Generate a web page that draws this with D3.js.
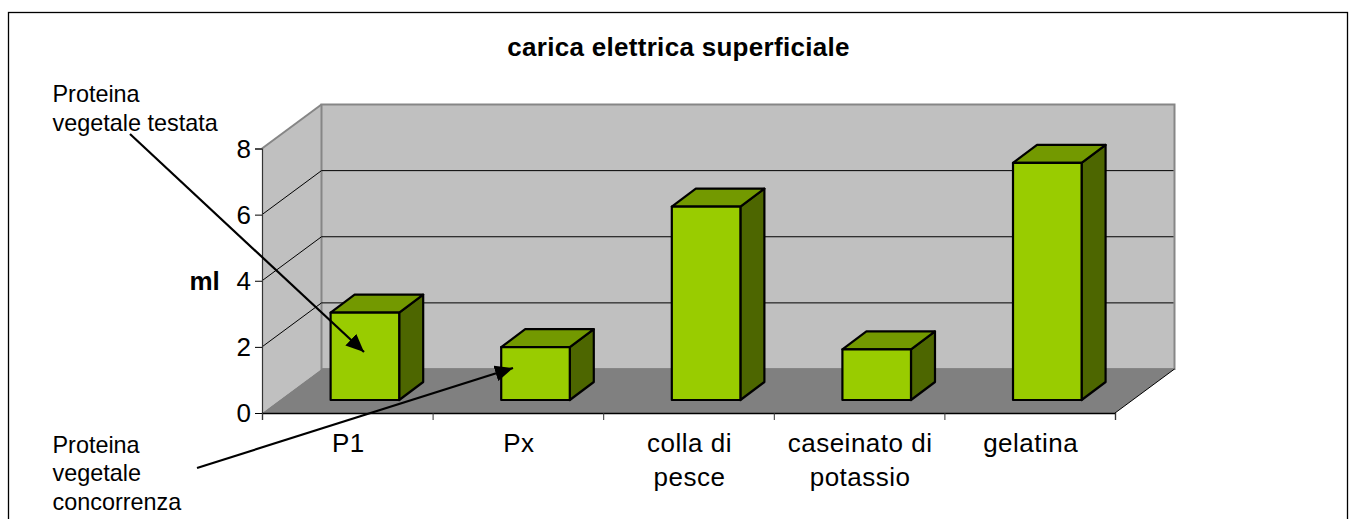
<!DOCTYPE html>
<html>
<head>
<meta charset="utf-8">
<script src="https://cdnjs.cloudflare.com/ajax/libs/d3/7.8.5/d3.min.js"></script>
<style>
  html, body { margin: 0; padding: 0; background: #fff; overflow: hidden; }
  svg { display: block; }
  text { font-family: "Liberation Sans", Arial, sans-serif; fill: #000; }
</style>
</head>
<body>
<svg id="chart" width="1349" height="519"></svg>
<script>
// values
const categories = ['P1', 'Px', 'colla di pesce', 'caseinato di potassio', 'gelatina'];
const categoryLines = [['P1'], ['Px'], ['colla di', 'pesce'], ['caseinato di', 'potassio'], ['gelatina']];
const values = [2.64, 1.6, 5.85, 1.53, 7.17];
const yTicks = [0, 2, 4, 6, 8];
const titleText = 'carica elettrica superficiale';
const yLabel = 'ml';
const noteTested = ['Proteina', 'vegetale testata'];
const noteRival = ['Proteina', 'vegetale', 'concorrenza'];

const svg = d3.select('#chart');

// Margin conventions
const plot = { left: 262, right: 1115, top: 148.5, bottom: 413 };
// 3d offsets: wall depth, then where the bars sit inside it
const wall = { dx: 59.5, dy: -44 };
const barShift = { dx: 17.6, dy: -13 };
const barDepth = { dx: 24, dy: -18 };

const x = d3.scaleBand().domain(categories).range([plot.left, plot.right]).paddingInner(0).paddingOuter(0);
const y = d3.scaleLinear().domain([0, 8]).range([plot.bottom, plot.top]);
const barWidth = x.bandwidth() * 0.402;

const poly = (pts) => pts.map((p) => p.join(',')).join(' ');

// outer frame, bottom edge runs off the picture
svg.append('rect')
  .attr('x', 8.5).attr('y', 12.5)
  .attr('width', 1339).attr('height', 520)
  .attr('fill', '#fff').attr('stroke', '#000').attr('stroke-width', 1.3);

const g = svg.append('g');

// side wall, back wall, floor
g.append('polygon')
  .attr('points', poly([[plot.left, y(0)], [plot.left, y(8)], [plot.left + wall.dx, y(8) + wall.dy], [plot.left + wall.dx, y(0) + wall.dy]]))
  .attr('fill', '#c0c0c0');
g.append('polygon')
  .attr('points', poly([[plot.left + wall.dx, y(8) + wall.dy], [plot.right + wall.dx, y(8) + wall.dy], [plot.right + wall.dx, y(0) + wall.dy], [plot.left + wall.dx, y(0) + wall.dy]]))
  .attr('fill', '#c0c0c0')
  .attr('stroke', '#868686').attr('stroke-width', 2);
g.append('polygon')
  .attr('points', poly([[plot.left, y(0)], [plot.right, y(0)], [plot.right + wall.dx, y(0) + wall.dy], [plot.left + wall.dx, y(0) + wall.dy]]))
  .attr('fill', '#808080');
g.append('polyline')
  .attr('points', poly([[plot.left, y(8)], [plot.left + wall.dx, y(8) + wall.dy]]))
  .attr('fill', 'none').attr('stroke', '#868686').attr('stroke-width', 2);
g.append('line')
  .attr('x1', plot.right).attr('y1', y(0))
  .attr('x2', plot.right + wall.dx).attr('y2', y(0) + wall.dy)
  .attr('stroke', '#000').attr('stroke-width', 1);

// gridlines, bent round the side wall
g.selectAll('.grid')
  .data(yTicks.filter((d) => d > 0 && d < 8))
  .enter().append('polyline')
  .attr('class', 'grid')
  .attr('points', (d) => poly([[plot.left, y(d)], [plot.left + wall.dx, y(d) + wall.dy], [plot.right + wall.dx - 1, y(d) + wall.dy]]))
  .attr('fill', 'none').attr('stroke', '#000').attr('stroke-width', 1);

// axes
const yAxis = g.append('g')
  .attr('transform', `translate(${plot.left},0)`)
  .call(d3.axisLeft(y).tickValues(yTicks).tickSize(7).tickPadding(4));
yAxis.selectAll('text').style('font-size', '26px').style('font-family', '"Liberation Sans", Arial, sans-serif').attr('dy', '0.33em');
yAxis.select('.domain').attr('stroke', '#333').attr('stroke-width', 1.2);

// ticks sit on the band edges, labels in the band centres
const xEdges = d3.scaleLinear().domain([0, categories.length]).range([plot.left, plot.right]);
const xAxis = g.append('g')
  .attr('transform', `translate(0,${plot.bottom})`)
  .call(d3.axisBottom(xEdges).tickValues(d3.range(categories.length + 1)).tickSize(7).tickFormat(''));
xAxis.select('.domain').attr('stroke', '#000').attr('stroke-width', 1.3);
xAxis.selectAll('.tick line').attr('stroke', '#333');

g.selectAll('.xlabel')
  .data(categories)
  .enter().append('text')
  .attr('class', 'xlabel')
  .attr('text-anchor', 'middle')
  .style('font-size', '26px')
  .style('letter-spacing', '0.5px')
  .each(function (d, i) {
    d3.select(this).selectAll('tspan')
      .data(categoryLines[i])
      .enter().append('tspan')
      .attr('x', x(d) + x.bandwidth() / 2 + 1)
      .attr('y', (t, j) => 452 + j * 34)
      .text((t) => t);
  });

// bars
const bars = g.selectAll('.bar')
  .data(categories.map((c, i) => ({ name: c, value: values[i] })))
  .enter().append('g')
  .attr('class', 'bar')
  .attr('stroke', '#000').attr('stroke-width', 2.2).attr('stroke-linejoin', 'round');

const x0 = (d) => x(d.name) + x.bandwidth() / 2 + barShift.dx - barWidth / 2;
const x1 = (d) => x0(d) + barWidth;
const yBase = y(0) + barShift.dy;
const yTop = (d) => y(d.value) + barShift.dy;

bars.append('polygon')
  .attr('fill', '#4d6600')
  .attr('points', (d) => poly([[x1(d), yBase], [x1(d), yTop(d)], [x1(d) + barDepth.dx, yTop(d) + barDepth.dy], [x1(d) + barDepth.dx, yBase + barDepth.dy]]));
bars.append('polygon')
  .attr('fill', '#739900')
  .attr('points', (d) => poly([[x0(d), yTop(d)], [x1(d), yTop(d)], [x1(d) + barDepth.dx, yTop(d) + barDepth.dy], [x0(d) + barDepth.dx, yTop(d) + barDepth.dy]]));
bars.append('rect')
  .attr('fill', '#99cc00')
  .attr('x', x0)
  .attr('y', yTop)
  .attr('width', barWidth)
  .attr('height', (d) => yBase - yTop(d));

// title and axis title
svg.append('text')
  .attr('x', 678.5).attr('y', 56)
  .attr('text-anchor', 'middle')
  .style('font-size', '26px').style('font-weight', 'bold')
  .style('letter-spacing', '0.3px')
  .text(titleText);
svg.append('text')
  .attr('x', 189.5).attr('y', 290)
  .style('font-size', '26px').style('font-weight', 'bold')
  .text(yLabel);

// callouts
svg.append('defs').append('marker')
  .attr('id', 'head')
  .attr('viewBox', '0 0 18 16')
  .attr('refX', 18).attr('refY', 8)
  .attr('markerWidth', 18).attr('markerHeight', 16)
  .attr('markerUnits', 'userSpaceOnUse')
  .attr('orient', 'auto')
  .append('path').attr('d', 'M0,0L18,8L0,16Z').attr('fill', '#000');

const drawNote = (lines, baseY) => {
  svg.append('g').selectAll('text')
    .data(lines)
    .enter().append('text')
    .attr('x', 52.5)
    .attr('y', (d, i) => baseY + i * 28.7)
    .style('font-size', '23.4px')
    .text((d) => d);
};
drawNote(noteTested, 102);
drawNote(noteRival, 452.5);

const drawArrow = (a, b) => {
  svg.append('line')
    .attr('x1', a[0]).attr('y1', a[1])
    .attr('x2', b[0]).attr('y2', b[1])
    .attr('stroke', '#000').attr('stroke-width', 2.2)
    .attr('marker-end', 'url(#head)');
};
drawArrow([130, 134], [364, 352]);
drawArrow([197, 468], [513, 368]);
</script>
</body>
</html>
